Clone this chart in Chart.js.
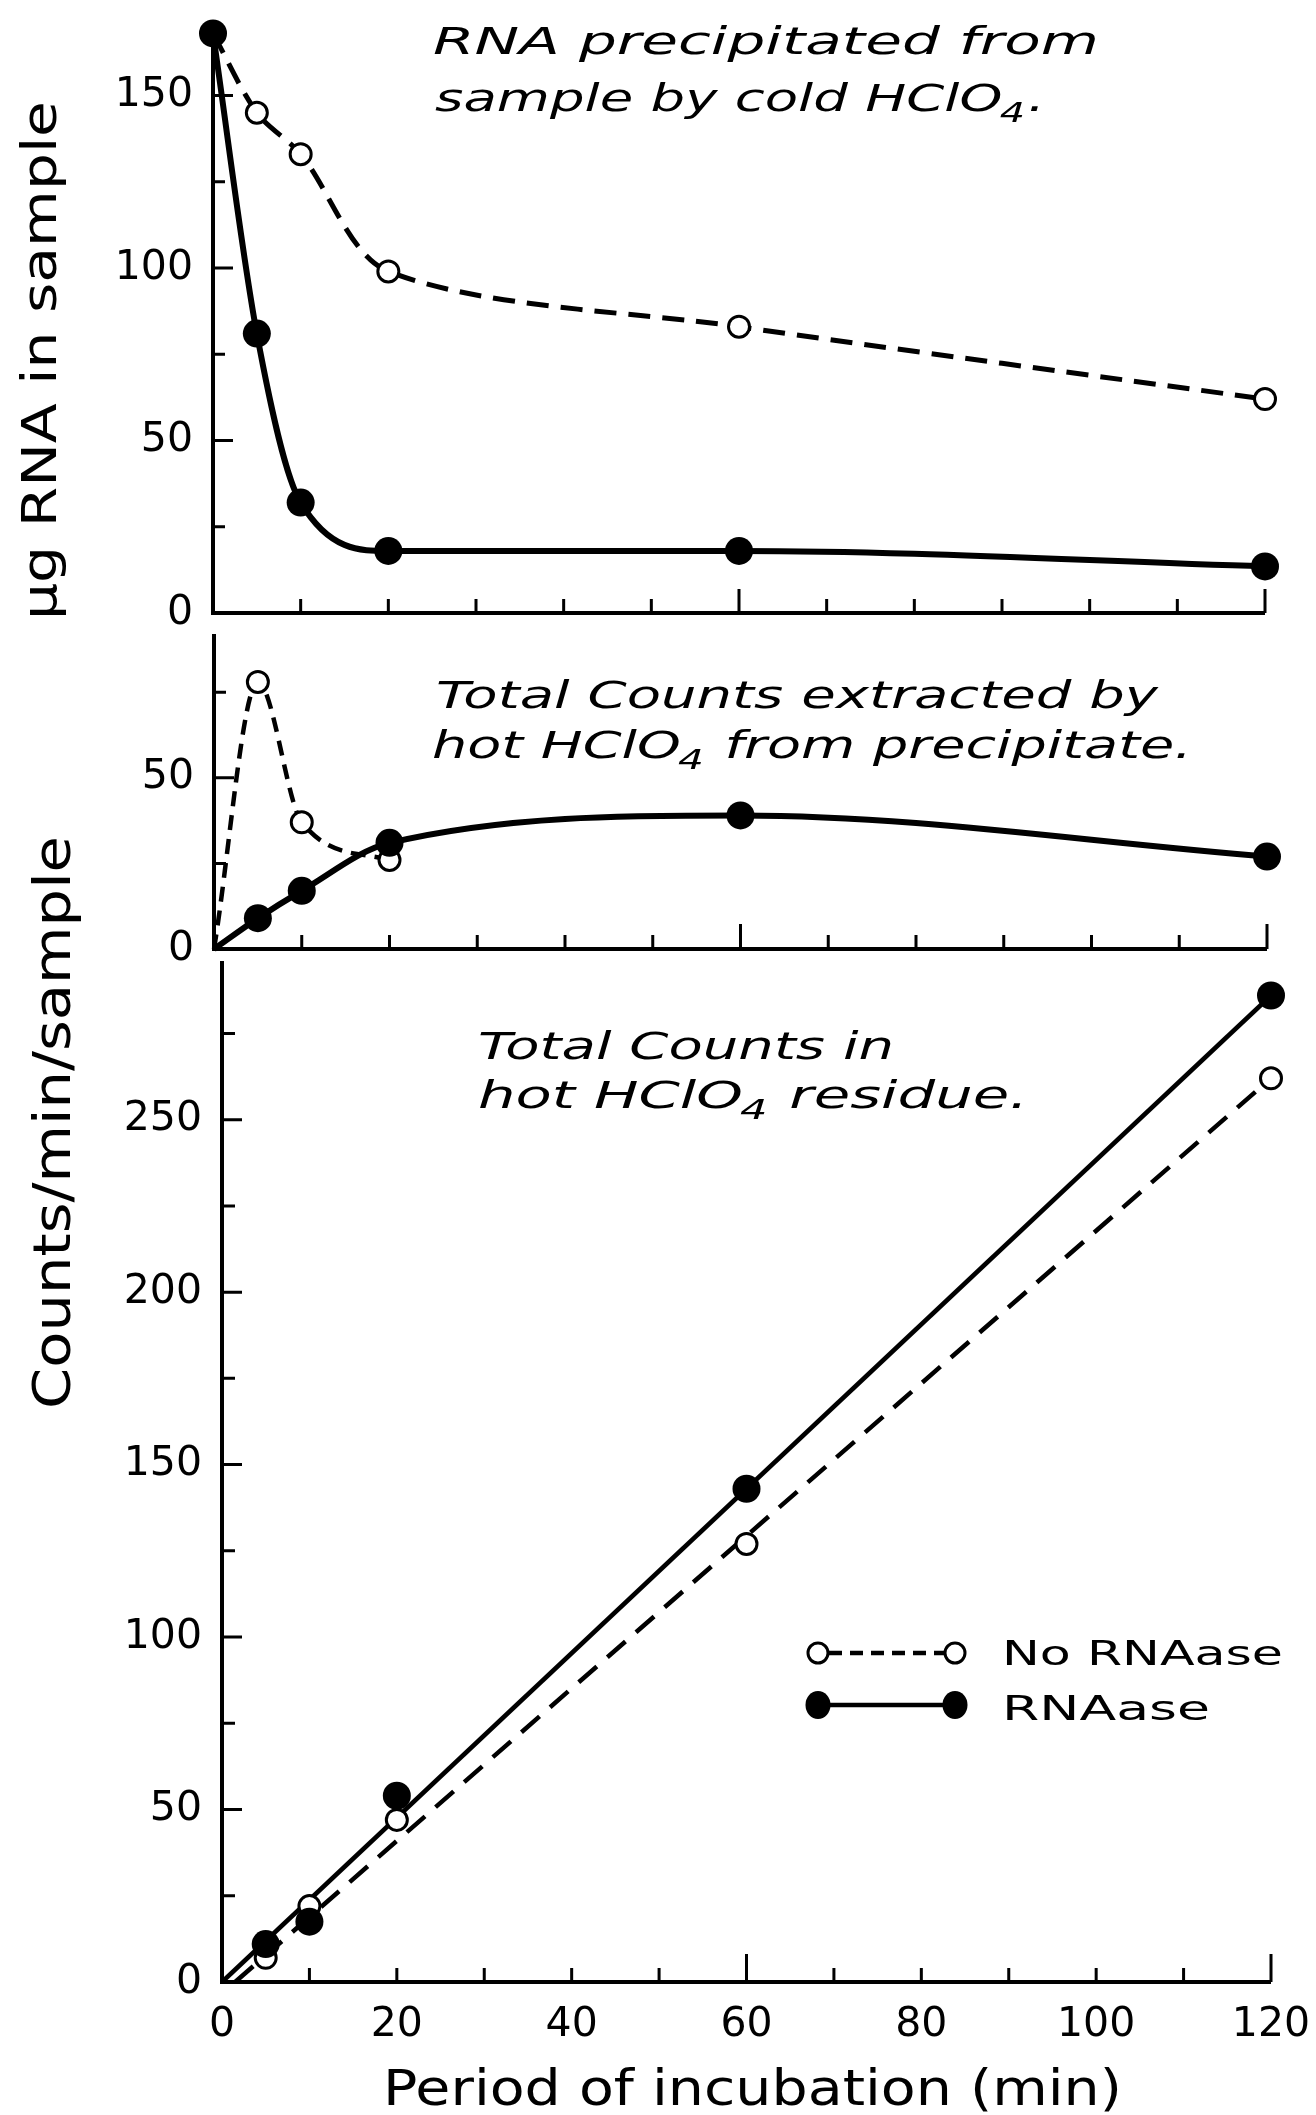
<!DOCTYPE html>
<html>
<head>
<meta charset="utf-8">
<script src="https://cdn.jsdelivr.net/npm/chart.js@4/dist/chart.umd.min.js"></script>
<style>
  html, body { margin: 0; padding: 0; background: #fff; width: 1316px; height: 2115px; overflow: hidden; }
  canvas { position: absolute; left: 0; }
</style>
</head>
<body>
<canvas id="c1" width="1316" height="640" style="top:0px"></canvas>
<canvas id="c2" width="1316" height="345" style="top:618px"></canvas>
<canvas id="c3" width="1316" height="1315" style="top:800px"></canvas>
<script>
// ---------------- data ----------------
const timeMin = [0, 5, 10, 20, 60, 120];
const precipNoRNAase = [168, 145, 133, 99, 83, 62];
const precipRNAase = [168, 81, 32, 18, 18, 13.5];

const extractTimeNoRNAase = [0, 5, 10, 20];
const extractNoRNAase = [0, 78, 37, 26];
const extractRNAase = [0, 9, 17, 31, 39, 27];

const residueTime = [5, 10, 20, 60, 120];
const residueNoRNAase = [7, 22, 47, 127, 262];
const residueRNAase = [11, 17.5, 54, 143, 286];
const fitTimeNoRNAase = [1.5, 120];
const fitNoRNAase = [0, 262];
const fitTimeRNAase = [0, 120];
const fitRNAase = [0, 286];

const xTickLabels = [0, 20, 40, 60, 80, 100, 120];
const yLabelsPrecip = [0, 50, 100, 150];
const yLabelsExtract = [0, 50];
const yLabelsResidue = [0, 50, 100, 150, 200, 250];

// "_4" marks a subscript 4
const titlePrecip = ['RNA precipitated from', 'sample by cold HClO_4.'];
const titleExtract = ['Total Counts extracted by', 'hot HClO_4 from precipitate.'];
const titleResidue = ['Total Counts in', 'hot HClO_4 residue.'];
const yTitleTop = '\u03BCg RNA in sample';
const yTitleBottom = 'Counts/min/sample';
const xTitle = 'Period of incubation (min)';
const seriesNames = ['No RNAase', 'RNAase'];

// ---------------- helpers ----------------
const FONT = '"DejaVu Sans", "Liberation Sans", sans-serif';
const pts = (xs, ys) => xs.map((x, i) => ({ x, y: ys[i] }));

function drawFitted(ctx, t) {
  const size = t.size;
  const style = t.italic ? 'italic ' : '';
  const mainFont = style + size + 'px ' + FONT;
  const subFont = style + Math.round(size * 0.72) + 'px ' + FONT;
  const parts = [];
  t.text.split(/_(\d)/).forEach((s, i) => { if (s) parts.push({ s, sub: i % 2 === 1 }); });
  ctx.save();
  let total = 0;
  parts.forEach(p => { ctx.font = p.sub ? subFont : mainFont; p.w = ctx.measureText(p.s).width; total += p.w; });
  ctx.translate(t.x, t.y);
  if (t.rotate) ctx.rotate(t.rotate);
  ctx.scale(t.w / total, 1);
  ctx.fillStyle = '#000';
  ctx.textAlign = 'left';
  ctx.textBaseline = 'alphabetic';
  let cx = 0;
  parts.forEach(p => {
    ctx.font = p.sub ? subFont : mainFont;
    ctx.fillText(p.s, p.sub ? cx - size * 0.05 : cx, p.sub ? size * 0.3 : 0);
    cx += p.w;
  });
  ctx.restore();
}

function drawLegend(ctx, L) {
  ctx.save();
  ctx.strokeStyle = '#000';
  ctx.lineWidth = 4.5;
  ctx.setLineDash([13, 8]);
  ctx.beginPath();
  ctx.moveTo(L.x1 + 11, L.y1); ctx.lineTo(L.x2 - 11, L.y1);
  ctx.stroke();
  ctx.setLineDash([]);
  ctx.lineWidth = 3;
  [L.x1, L.x2].forEach(cx => {
    ctx.beginPath(); ctx.arc(cx, L.y1, 10, 0, Math.PI * 2);
    ctx.fillStyle = '#fff'; ctx.fill(); ctx.stroke();
  });
  ctx.fillStyle = '#000';
  ctx.lineWidth = 4.5;
  ctx.beginPath();
  ctx.moveTo(L.x1, L.y2); ctx.lineTo(L.x2, L.y2);
  ctx.stroke();
  [L.x1, L.x2].forEach(cx => {
    ctx.beginPath(); ctx.ellipse(cx, L.y2, 12.5, 14, 0, 0, Math.PI * 2); ctx.fill();
  });
  ctx.restore();
  drawFitted(ctx, { text: seriesNames[0], x: L.tx, y: L.y1 + 12, w: 281, size: 34 });
  drawFitted(ctx, { text: seriesNames[1], x: L.tx, y: L.y2 + 15, w: 208, size: 34 });
}

const framePlugin = {
  id: 'frame',
  afterDraw(chart, args, o) {
    const { ctx, chartArea: a, scales: { x, y } } = chart;
    ctx.save();
    ctx.strokeStyle = '#000';
    ctx.lineWidth = 4;
    ctx.beginPath();
    ctx.moveTo(a.left, a.top); ctx.lineTo(a.left, a.bottom + 2);
    ctx.moveTo(a.left - 2, a.bottom); ctx.lineTo(a.right, a.bottom);
    ctx.stroke();
    ctx.lineWidth = 3;
    ctx.beginPath();
    x.ticks.forEach(t => {
      if (t.value === 0) return;
      const px = x.getPixelForValue(t.value);
      const len = (t.value % 60 === 0) ? o.xMajor : o.xMinor;
      ctx.moveTo(px, a.bottom); ctx.lineTo(px, a.bottom - len);
    });
    y.ticks.forEach(t => {
      if (t.value === 0) return;
      const py = y.getPixelForValue(t.value);
      const len = (t.value % 50 === 0) ? o.yMajor : o.yMinor;
      ctx.moveTo(a.left, py); ctx.lineTo(a.left + len, py);
    });
    ctx.stroke();
    ctx.restore();
    (o.texts || []).forEach(t => drawFitted(ctx, t));
    if (o.legend) drawLegend(ctx, o.legend);
  }
};

function xScale(showLabels, h) {
  return {
    type: 'linear', min: 0, max: 120,
    grid: { display: false, drawTicks: false },
    border: { display: false },
    ticks: {
      display: showLabels, stepSize: 10, autoSkip: false, maxRotation: 0,
      font: { family: FONT, size: 41, lineHeight: 1 }, color: '#000', padding: 23,
      callback: v => xTickLabels.includes(v) ? String(v) : ''
    },
    afterFit: s => { s.height = h; s.paddingLeft = 0; s.paddingRight = 0; }
  };
}
function yScale(max, labels, w) {
  return {
    type: 'linear', min: 0, max: max,
    grid: { display: false, drawTicks: false },
    border: { display: false },
    ticks: {
      stepSize: 25, includeBounds: false, autoSkip: false,
      font: { family: FONT, size: 41, lineHeight: 0.4 }, color: '#000', padding: 20,
      callback: v => labels.includes(v) ? String(v) : ''
    },
    afterFit: s => { s.width = w; s.paddingTop = 0; s.paddingBottom = 0; }
  };
}
// no marker at the common origin of a curve (0,0)
const radiusFor = r => c => (c.raw && c.raw.x === 0 && c.raw.y === 0) ? 0 : r;
function openSet(label, data, dash, lw, line, smooth) {
  const s = smooth || { cubicInterpolationMode: 'monotone' };
  return Object.assign({
    label, data, showLine: line, borderColor: '#000', borderWidth: lw, borderDash: dash,
    pointRadius: radiusFor(10.5), pointBorderWidth: 3,
    pointBackgroundColor: '#fff', pointBorderColor: '#000', clip: false, order: 1
  }, s);
}
function filledSet(label, data, lw, line) {
  return {
    label, data, showLine: line, borderColor: '#000', borderWidth: lw,
    cubicInterpolationMode: 'monotone', pointRadius: radiusFor(14), pointBorderWidth: 0,
    pointBackgroundColor: '#000', pointBorderColor: '#000', clip: false, order: 0
  };
}
const common = {
  responsive: false, animation: false, events: [],
  plugins: { legend: { display: false }, tooltip: { enabled: false } }
};

// ---------------- panel 1 ----------------
new Chart(document.getElementById('c1'), {
  type: 'scatter',
  data: { datasets: [
    filledSet(seriesNames[1], pts(timeMin, precipRNAase), 6, true),
    openSet(seriesNames[0], pts(timeMin, precipNoRNAase), [22, 12], 5, true,
            { cubicInterpolationMode: 'default', tension: 0.3 })
  ] },
  options: Object.assign({}, common, {
    layout: { padding: { left: 0, right: 51, top: 26.5, bottom: 0 } },
    scales: { x: xScale(false, 27), y: yScale(170, yLabelsPrecip, 213) },
    plugins: Object.assign({}, common.plugins, { frame: {
      xMajor: 24, xMinor: 14, yMajor: 20, yMinor: 12,
      texts: [
        { text: titlePrecip[0], x: 433, y: 54, w: 666, size: 37, italic: true },
        { text: titlePrecip[1], x: 435, y: 111, w: 610, size: 37, italic: true },
        { text: yTitleTop, x: 56, y: 620, w: 519, rotate: -Math.PI / 2, size: 48 }
      ]
    } })
  }),
  plugins: [framePlugin]
});

// ---------------- panel 2 ----------------
new Chart(document.getElementById('c2'), {
  type: 'scatter',
  data: { datasets: [
    filledSet(seriesNames[1], pts(timeMin, extractRNAase), 6, true),
    openSet(seriesNames[0], pts(extractTimeNoRNAase, extractNoRNAase), [15, 9], 4.5, true)
  ] },
  options: Object.assign({}, common, {
    layout: { padding: { left: 0, right: 49, top: 16, bottom: 0 } },
    scales: { x: xScale(false, 11.5), y: yScale(92, yLabelsExtract, 214) },
    plugins: Object.assign({}, common.plugins, { frame: {
      xMajor: 25, xMinor: 14, yMajor: 20, yMinor: 12,
      texts: [
        { text: titleExtract[0], x: 436, y: 90, w: 722, size: 37, italic: true },
        { text: titleExtract[1], x: 432, y: 140, w: 760, size: 37, italic: true }
      ]
    } })
  }),
  plugins: [framePlugin]
});

// ---------------- panel 3 ----------------
const fitLine = (label, data, dash) => ({
  label, data, showLine: true, borderColor: '#000', borderWidth: 4.5, borderDash: dash,
  pointRadius: 0, clip: false, order: 2
});
new Chart(document.getElementById('c3'), {
  type: 'scatter',
  data: { datasets: [
    filledSet(seriesNames[1], pts(residueTime, residueRNAase), 4, false),
    openSet(seriesNames[0], pts(residueTime, residueNoRNAase), [], 4, false),
    fitLine(seriesNames[1] + ' fit', pts(fitTimeRNAase, fitRNAase), []),
    fitLine(seriesNames[0] + ' fit', pts(fitTimeNoRNAase, fitNoRNAase), [24, 14])
  ] },
  options: Object.assign({}, common, {
    layout: { padding: { left: 0, right: 45, top: 161, bottom: 0 } },
    scales: { x: xScale(true, 133), y: yScale(296, yLabelsResidue, 222) },
    plugins: Object.assign({}, common.plugins, { frame: {
      xMajor: 28, xMinor: 14, yMajor: 20, yMinor: 13,
      texts: [
        { text: titleResidue[0], x: 478, y: 259, w: 416, size: 37, italic: true },
        { text: titleResidue[1], x: 478, y: 308, w: 550, size: 37, italic: true },
        { text: yTitleBottom, x: 70, y: 609, w: 573, rotate: -Math.PI / 2, size: 52 },
        { text: xTitle, x: 383, y: 1305, w: 739, size: 50 }
      ],
      legend: { x1: 818, x2: 955, y1: 853, y2: 905, tx: 1002 }
    } })
  }),
  plugins: [framePlugin]
});
</script>
</body>
</html>
